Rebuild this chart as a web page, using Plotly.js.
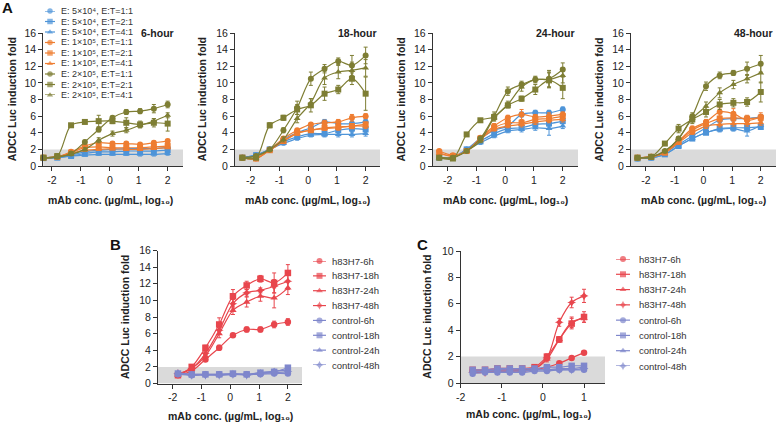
<!DOCTYPE html>
<html><head><meta charset="utf-8">
<script src="https://cdn.plot.ly/plotly-3.0.1.min.js"></script>
<style>body{margin:0;background:#fff}#chart{width:776px;height:423px}</style>
</head><body><div id="chart"></div>
<script>
// ---------- DATA ----------
const xA = [-2.294,-1.817,-1.340,-0.863,-0.385,0.092,0.569,1.046,1.523,2.000];
const xB = [-1.817,-1.340,-0.863,-0.385,0.092,0.569,1.046,1.523,2.000];
const xC = [-1.709,-1.408,-1.107,-0.806,-0.505,-0.204,0.097,0.398,0.699,1.000];
const xTicksA = [-2,-1,0,1,2];
const xTicksC = [-2,-1,0,1];

const seriesA = ['E: 5×10⁴, E:T=1:1','E: 5×10⁴, E:T=2:1','E: 5×10⁴, E:T=4:1',
  'E: 1×10⁵, E:T=1:1','E: 1×10⁵, E:T=2:1','E: 1×10⁵, E:T=4:1',
  'E: 2×10⁵, E:T=1:1','E: 2×10⁵, E:T=2:1','E: 2×10⁵, E:T=4:1'];
const panelTitlesA = ['6-hour','18-hour','24-hour','48-hour'];

const A6 = [
 [0.95,1.1,1.3,1.7,1.9,2.0,2.1,2.1,2.1,2.2],
 [0.95,1.0,1.2,1.5,1.7,1.7,1.8,1.8,1.8,1.9],
 [0.9,1.0,1.2,1.3,1.4,1.4,1.4,1.4,1.4,1.5],
 [1.0,1.1,1.7,2.4,2.8,2.7,2.7,2.6,2.8,3.0],
 [1.0,1.1,1.6,2.2,2.3,2.2,2.2,2.2,2.3,2.4],
 [1.0,1.1,1.5,1.9,2.0,2.1,2.0,2.0,2.1,2.2],
 [1.0,1.1,1.5,2.9,4.4,5.8,6.5,6.6,6.9,7.4],
 [1.0,1.2,4.9,5.3,5.4,5.4,5.2,5.0,5.2,5.1],
 [1.0,1.1,1.4,2.0,3.1,3.9,4.3,4.9,5.4,6.1]];
const A18 = [
 [1.0,1.3,2.0,3.2,4.0,4.6,5.3,5.1,5.1,5.3],
 [1.0,1.3,2.0,2.9,3.5,3.9,3.9,4.3,4.5,4.4],
 [1.0,1.3,2.0,2.7,3.3,3.7,3.8,3.8,3.8,3.9],
 [1.0,0.9,2.0,3.3,4.3,5.0,5.2,5.3,5.8,6.0],
 [1.0,0.9,1.9,3.0,4.0,4.3,4.6,4.7,4.8,5.0],
 [1.0,0.9,1.9,3.0,3.9,4.3,4.5,4.6,4.8,4.8],
 [1.0,1.2,2.0,4.3,7.0,10.5,11.7,12.6,12.1,13.3],
 [1.0,1.0,4.9,5.8,6.8,7.3,8.7,9.2,10.5,8.7],
 [1.0,1.2,2.0,3.2,5.7,7.6,10.6,11.3,11.5,11.8]];
const A24 = [
 [1.0,1.0,2.0,3.3,4.3,4.8,6.2,6.4,6.4,6.8],
 [1.0,1.0,2.0,3.0,3.9,4.5,4.6,5.0,5.1,5.4],
 [1.0,1.0,2.0,2.8,3.6,4.2,4.4,4.6,4.5,4.8],
 [1.8,1.3,1.8,3.4,4.8,5.8,6.2,5.9,6.0,6.2],
 [1.6,1.2,1.8,3.3,4.6,5.2,5.2,5.6,5.7,6.0],
 [1.5,1.2,1.8,3.2,4.4,4.8,5.0,5.3,5.5,5.6],
 [1.0,1.0,1.8,3.3,6.0,9.0,9.8,10.4,10.5,11.6],
 [1.0,0.9,3.8,5.5,5.9,7.3,8.1,9.2,10.3,9.4],
 [1.0,1.0,1.8,3.0,5.8,7.4,9.5,10.4,10.4,10.9]];
const A48 = [
 [0.9,1.0,1.6,2.6,3.6,4.6,5.5,5.7,5.7,5.9],
 [0.9,1.0,1.4,2.4,3.3,4.0,4.5,4.6,4.6,4.7],
 [0.9,1.0,1.4,2.4,3.3,4.0,4.4,4.5,4.2,4.9],
 [1.0,1.1,1.7,3.0,4.5,5.3,6.5,6.3,5.5,5.9],
 [1.0,1.1,1.6,2.9,4.3,5.1,5.7,5.8,5.7,5.8],
 [1.0,1.1,1.6,2.8,4.0,4.8,5.0,5.1,5.1,5.2],
 [1.0,1.1,1.8,3.3,6.0,9.6,10.9,11.2,11.7,12.3],
 [1.0,1.1,2.7,4.5,5.6,6.5,7.4,7.6,7.7,8.9],
 [1.0,1.1,1.8,3.3,5.7,7.2,8.8,9.8,10.5,11.2]];

const errA6 = [
 [0,0,0.1,0.1,0.2,0.2,0.2,0.2,0.2,0.3],
 [0,0,0.1,0.1,0.1,0.2,0.2,0.2,0.2,0.2],
 [0,0,0.1,0.1,0.1,0.1,0.1,0.2,0.2,0.2],
 [0,0,0.1,0.2,0.2,0.2,0.2,0.2,0.2,0.2],
 [0,0,0.1,0.1,0.2,0.2,0.2,0.2,0.2,0.2],
 [0,0,0.1,0.1,0.1,0.1,0.1,0.1,0.1,0.1],
 [0,0,0.1,0.2,0.3,0.2,0.3,0.3,0.5,0.4],
 [0,0,0.2,0.2,0.7,0.3,0.6,0.4,0.5,0.9],
 [0,0,0.1,0.2,0.3,0.3,0.3,0.3,0.3,0.3]];
const errA18 = [
 [0,0.1,0.1,0.2,0.2,0.3,0.3,0.3,0.3,0.3],
 [0,0.1,0.1,0.2,0.2,0.2,0.3,0.3,0.4,0.3],
 [0,0.1,0.1,0.2,0.2,0.2,0.3,0.3,0.3,0.3],
 [0,0.1,0.1,0.2,0.2,0.2,0.3,0.3,0.4,0.3],
 [0,0.1,0.1,0.2,0.2,0.2,0.2,0.3,0.3,0.3],
 [0,0.1,0.1,0.2,0.2,0.2,0.2,0.3,0.3,0.3],
 [0,0,0.1,0.3,0.8,0.8,0.5,0.4,1.2,1.0],
 [0,0,0.3,0.3,0.6,0.8,0.8,0.5,0.7,2.0],
 [0,0,0.1,0.3,0.5,0.5,0.8,0.8,1.0,1.0]];
const errA24 = [
 [0,0,0.1,0.2,0.2,0.3,0.3,0.3,0.3,0.3],
 [0,0,0.1,0.2,0.2,0.2,0.3,0.3,0.4,0.3],
 [0,0,0.1,0.2,0.2,0.2,0.3,0.3,0.8,0.3],
 [0,0,0.1,0.2,0.3,0.3,0.6,0.3,0.4,0.3],
 [0,0,0.1,0.2,0.2,0.3,0.3,0.3,0.4,0.3],
 [0,0,0.1,0.2,0.2,0.2,0.3,0.3,0.3,0.3],
 [0,0,0.1,0.2,0.5,0.5,0.4,0.3,1.0,0.8],
 [0,0,0.2,0.2,0.3,0.3,0.3,0.6,0.9,1.3],
 [0,0,0.1,0.2,0.4,0.4,0.5,0.4,0.9,0.9]];
const errA48 = [
 [0,0,0.1,0.2,0.2,0.3,0.3,0.3,0.3,0.3],
 [0,0,0.1,0.2,0.2,0.2,0.3,0.3,0.3,0.3],
 [0,0,0.1,0.2,0.2,0.2,0.3,0.3,0.6,0.3],
 [0,0,0.1,0.2,0.3,0.3,0.5,0.6,0.4,0.5],
 [0,0,0.1,0.2,0.3,0.3,0.3,0.3,0.4,0.4],
 [0,0,0.1,0.2,0.2,0.3,0.3,0.3,0.3,0.3],
 [0,0,0.1,0.2,0.4,0.5,0.4,0.3,0.8,1.0],
 [0,0,0.2,0.5,0.5,0.6,0.6,0.5,0.5,1.2],
 [0,0,0.1,0.2,0.4,0.5,0.6,0.5,0.5,1.2]];

const seriesB = ['h83H7-6h','h83H7-18h','h83H7-24h','h83H7-48h','control-6h','control-18h','control-24h','control-48h'];
const B = [
 [1.0,1.5,2.9,4.3,5.8,6.5,6.5,7.1,7.4],
 [1.0,2.0,4.3,7.1,10.5,11.8,12.6,12.1,13.3],
 [1.0,1.8,3.3,6.0,8.8,9.8,10.5,10.3,11.5],
 [1.2,1.8,3.6,6.4,9.6,10.9,11.2,11.7,12.3],
 [1.1,1.0,1.1,1.1,1.1,1.1,1.1,1.2,1.2],
 [1.2,1.1,1.1,1.1,1.2,1.1,1.3,1.4,1.9],
 [1.3,1.1,1.1,1.0,1.1,1.1,1.3,1.5,1.6],
 [1.2,1.0,1.0,1.0,1.1,1.0,1.2,1.3,1.4]];
const errB = [
 [0.1,0.1,0.2,0.3,0.2,0.3,0.3,0.4,0.4],
 [0.1,0.2,0.3,0.8,0.8,0.5,0.4,1.2,1.0],
 [0.1,0.1,0.2,0.5,0.5,0.6,0.6,1.2,0.8],
 [0.1,0.1,0.2,0.4,0.5,0.4,0.3,0.8,1.0],
 [0.1,0.1,0.1,0.1,0.1,0.1,0.1,0.1,0.1],
 [0.1,0.1,0.1,0.1,0.1,0.1,0.1,0.2,0.2],
 [0.1,0.1,0.1,0.1,0.1,0.1,0.1,0.2,0.2],
 [0.1,0.1,0.1,0.1,0.1,0.1,0.1,0.1,0.1]];
const C = [
 [0.9,0.9,0.9,0.9,0.9,1.0,1.2,1.5,1.9,2.3],
 [1.0,1.0,1.1,1.1,1.1,1.2,2.0,3.3,4.5,5.0],
 [0.9,0.9,1.0,1.0,1.0,1.1,1.8,3.3,4.6,4.9],
 [0.8,0.8,0.9,0.9,1.0,1.1,1.9,4.6,6.1,6.6],
 [0.7,0.8,0.8,0.8,0.8,0.9,0.9,1.0,1.0,1.0],
 [1.0,1.0,1.1,1.1,1.1,1.1,1.2,1.2,1.3,1.3],
 [0.9,0.9,1.0,1.0,1.0,1.0,1.0,1.1,1.1,1.2],
 [0.8,0.9,0.9,0.9,0.9,1.0,1.0,1.0,1.0,1.1]];
const errC = [
 [0.05,0.05,0.05,0.05,0.05,0.05,0.1,0.1,0.1,0.1],
 [0.1,0.1,0.1,0.1,0.1,0.1,0.2,0.2,0.4,0.4],
 [0.1,0.1,0.1,0.1,0.1,0.1,0.2,0.2,0.4,0.3],
 [0.1,0.1,0.1,0.1,0.1,0.1,0.2,0.3,0.4,0.5],
 [0.05,0.05,0.05,0.05,0.05,0.05,0.05,0.05,0.05,0.05],
 [0.05,0.05,0.05,0.05,0.05,0.05,0.05,0.1,0.1,0.1],
 [0.05,0.05,0.05,0.05,0.05,0.05,0.05,0.05,0.1,0.1],
 [0.05,0.05,0.05,0.05,0.05,0.05,0.05,0.05,0.05,0.05]];

// ---------- STYLE ----------
const BLUE='#4E94D8', ORANGE='#EE7D31', OLIVE='#7E7E34', RED='#E8464D', LAV='#7F87CC';
const colorsA=[BLUE,BLUE,BLUE,ORANGE,ORANGE,ORANGE,OLIVE,OLIVE,OLIVE];
const symA=['circle','square','triangle-up','circle','square','triangle-up','circle','square','triangle-up'];
const colorsB=[RED,RED,RED,RED,LAV,LAV,LAV,LAV];
const symB=['circle','square','triangle-up','star-diamond','circle','square','triangle-up','star-diamond'];
const TXT='#222', AX='#333';
const W=776, H=423;
const px=v=>v/W, py=v=>1-v/H;
const TF=10.5;

const traces=[];
const layout={width:W,height:H,margin:{l:0,r:0,t:0,b:0},paper_bgcolor:'#fff',plot_bgcolor:'rgba(0,0,0,0)',
  showlegend:false,font:{family:'Liberation Sans, Arial, DejaVu Sans, sans-serif',size:TF,color:TXT},shapes:[],annotations:[]};

function xax(dom,rng,anchor,vals){return {domain:dom,range:rng,anchor:anchor,showline:true,linecolor:AX,linewidth:1,
  ticks:'outside',ticklen:4,tickwidth:1,tickcolor:AX,tickvals:vals,ticktext:vals.map(String),showgrid:false,zeroline:false,
  tickfont:{size:TF,color:TXT},fixedrange:true};}
function yax(dom,rng,anchor,dt){return {domain:dom,range:rng,anchor:anchor,showline:true,linecolor:AX,linewidth:1,
  ticks:'outside',ticklen:4,tickwidth:1,tickcolor:AX,dtick:dt,tick0:0,showgrid:false,zeroline:false,
  tickfont:{size:TF,color:TXT},fixedrange:true};}

function addSeries(xs,ys,err,col,sym,xa,ya,msize){
  traces.push({type:'scatter',mode:'lines+markers',x:xs,y:ys,xaxis:xa,yaxis:ya,cliponaxis:false,
    line:{color:col,width:1.2,shape:'spline',smoothing:0.9},
    marker:{color:col,symbol:sym,size:msize,line:{width:0}},
    error_y:{type:'data',array:err,visible:true,color:col,thickness:1,width:2},hoverinfo:'skip'});
}
function grayBand(xa,ya){
  layout.shapes.push({type:'rect',xref:xa+' domain',yref:ya,x0:0,x1:1,y0:0,y1:2,fillcolor:'#DADADA',line:{width:0},layer:'below'});
}
function ann(text,x,y,opts){layout.annotations.push(Object.assign({text:text,x:x,y:y,xref:'paper',yref:'paper',showarrow:false,
  font:{size:TF,color:TXT},xanchor:'center',yanchor:'middle'},opts||{}));}

const XT='<b>mAb conc. (µg/mL, log₁₀)</b>';
const YT='<b>ADCC Luc induction fold</b>';

// ---------- PANEL A ----------
const dataA=[A6,A18,A24,A48], errsA=[errA6,errA18,errA24,errA48];
const domA=[[43.3,183],[235,380],[432.7,578],[631,776]];
const rngA=[[-2.3,2.53],[-2.55,2.5],[-2.52,2.53],[-2.52,2.53]];
const titleRight=[176,379,577,775];
const ytitleX=[11.7,201.7,400,598.3];
const xtitleC=[110.5,307,505,703];
const yDomA=[py(166),py(33)];
for(let p=0;p<4;p++){
  const k=p+1, xa='x'+(k===1?'':k), ya='y'+(k===1?'':k);
  layout['xaxis'+(k===1?'':k)]=xax([px(domA[p][0]),px(domA[p][1])],rngA[p],ya,xTicksA);
  layout['yaxis'+(k===1?'':k)]=yax(yDomA,[0,16],xa,2);
  grayBand(xa,ya);
  for(let s=0;s<9;s++) addSeries(xA,dataA[p][s],errsA[p][s],colorsA[s],symA[s],xa,ya,6);
  ann('<b>'+panelTitlesA[p]+'</b>',px(titleRight[p]),py(33),{xanchor:'right'});
  ann(YT,px(ytitleX[p]),py(99.5),{textangle:-90});
  ann(XT,px(xtitleC[p]),py(200));
}

// ---------- PANEL B ----------
layout.xaxis5=xax([px(158),px(302)],[-2.51,2.49],'y5',xTicksA);
layout.yaxis5=yax([py(383.5),py(250.5)],[0,16],'x5',2);
grayBand('x5','y5');
for(let s=0;s<8;s++) addSeries(xB,B[s],errB[s],colorsB[s],symB[s],'x5','y5',6.5);
ann(YT,px(125),py(317),{textangle:-90});
ann(XT,px(230.5),py(416));

// ---------- PANEL C ----------
layout.xaxis6=xax([px(460.7),px(605)],[-2,1.51],'y6',xTicksC);
layout.yaxis6=yax([py(383),py(251)],[0,10],'x6',2);
grayBand('x6','y6');
for(let s=0;s<8;s++) addSeries(xC,C[s],errC[s],colorsB[s],symB[s],'x6','y6',6.5);
ann(YT,px(426.7),py(317),{textangle:-90});
ann(XT,px(528),py(414));

// ---------- PANEL LETTERS ----------
ann('<b>A</b>',px(7.5),py(7),{font:{size:15,color:'#111'}});
ann('<b>B</b>',px(115),py(245),{font:{size:15,color:'#111'}});
ann('<b>C</b>',px(423),py(245),{font:{size:15,color:'#111'}});

// ---------- CUSTOM LEGENDS (overlay axes) ----------
function legendBlock(n,names,cols,syms,lx0,lx1,tx,yTop,yBot,fs,ms,id){
  const xa='x'+id, ya='y'+id;
  const step=(yBot-yTop)/(n-1);
  layout['xaxis'+id]={domain:[px(lx0),px(lx1)],range:[0,1],visible:false,fixedrange:true,anchor:ya};
  layout['yaxis'+id]={domain:[py(yBot),py(yTop)],range:[n-1,0],visible:false,fixedrange:true,anchor:xa};
  for(let i=0;i<n;i++){
    traces.push({type:'scatter',mode:'lines+markers',x:[0,0.5,1],y:[i,i,i],xaxis:xa,yaxis:ya,cliponaxis:false,
      line:{color:cols[i],width:1.2},marker:{color:cols[i],symbol:syms[i],size:[0,ms,0],line:{width:0}},hoverinfo:'skip'});
    ann(names[i],px(tx),py(yTop+i*step),{xanchor:'left',font:{size:fs,color:'#333'}});
  }
}
legendBlock(9,seriesA,colorsA,symA,45,55,59,11,95,9,5.5,7);
legendBlock(8,seriesB,colorsB,symB,313,326,329.5,261,365,9.5,6,8);
legendBlock(8,seriesB,colorsB,symB,616,630,636.5,259,366,9.5,6,9);

Plotly.newPlot('chart',traces,layout,{staticPlot:true,displayModeBar:false});
</script></body></html>
